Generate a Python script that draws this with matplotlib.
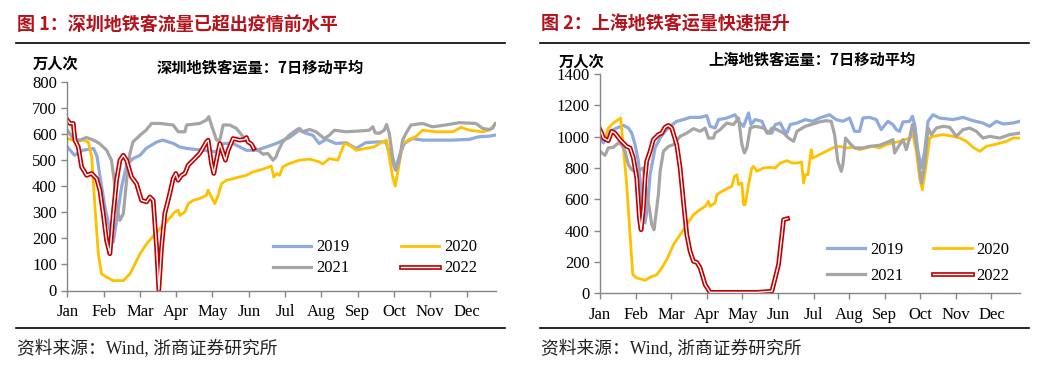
import matplotlib
matplotlib.use("Agg")
import matplotlib.pyplot as plt
import matplotlib.patheffects as pe
from matplotlib.lines import Line2D

# ---- data (day of year, 7-day moving average, 万人次) ----
months = ['Jan', 'Feb', 'Mar', 'Apr', 'May', 'Jun', 'Jul', 'Aug', 'Sep', 'Oct', 'Nov', 'Dec']
years = ['2019', '2020', '2021', '2022']

# Shenzhen
sz_d_2019 = [0, 6, 13, 22, 25, 27, 31.5, 35.7, 38.5, 41.3, 45.5, 49.7, 55, 61, 66, 75, 80, 89, 94, 100,
             114, 125, 131, 139, 144.5, 150, 158.5, 167, 175, 178, 186, 194.5, 200, 205.7, 211, 217, 225,
             233.6, 242, 250, 259, 267, 271, 275, 278, 282.4, 289, 298, 309, 323, 337, 345, 353.5, 358]
sz_v_2019 = [551, 519, 538, 545, 513, 449, 321, 231, 186, 269, 397, 481, 506, 519, 545, 570, 577, 564, 551, 545,
             538, 532, 564, 564, 551, 538, 538, 551, 564, 570, 587, 615, 603, 596, 564, 580, 564,
             567, 545, 567, 570, 570, 513, 462, 513, 564, 583, 577, 577, 577, 580, 590, 592, 596]

sz_d_2020 = [0, 8, 13, 17.6, 20.4, 23.2, 26, 28.7, 33, 38.5, 47, 52.5, 61, 66.4, 75, 83, 90, 93, 94.3, 98.5,
             101.3, 105.5, 111, 116.6, 118, 122.2, 123.6, 126.4, 129.2, 133.4, 139, 144.5, 150, 155.7, 161.3,
             165.4, 171, 173, 175.5, 178, 180.5, 186, 194.5, 203, 211, 214, 219.6, 222.4, 226.6, 229.4,
             232.2, 236.4, 242, 250, 257, 264, 267.6, 269.8, 272.6, 274.8, 278.2, 281, 286.6, 292, 297.7,
             309, 323, 330, 337, 348, 353.5, 358]
sz_v_2020 = [583, 573, 577, 570, 513, 320, 141, 64, 51, 38, 38, 64, 141, 179, 224, 263, 301, 308, 288, 301,
             333, 346, 353, 365, 385, 346, 333, 365, 410, 423, 429, 436, 442, 455, 462,
             468, 477, 435, 449, 442, 474, 487, 500, 504, 494, 485, 506, 504, 500, 532,
             564, 558, 538, 545, 551, 570, 577, 513, 436, 400, 487, 564, 580, 590, 615,
             609, 609, 626, 615, 609, 615, 635]

sz_d_2021 = [0, 5, 10.6, 16, 22, 27, 33, 37, 39.3, 41.3, 44, 47, 49.7, 52.5, 55, 61, 66, 70.6, 77.6, 88.7,
             93, 98.5, 100, 111, 116.6, 118.6, 120.8, 125, 127.8, 130.6, 136, 141.7, 147.3, 155.7, 160, 164,
             168, 172.4, 175, 176.4, 180.5, 186, 191.7, 194.5, 197.3, 203, 208.4, 215.4, 219.6, 223.8,
             233.6, 244.7, 253, 256, 258, 261.5, 265.6, 267.6, 269.8, 272.6, 275.4, 278.2, 281, 283.8, 288,
             297.7, 306, 317, 328.4, 342.4, 348, 353.5, 356.3, 358.6]
sz_v_2021 = [615, 583, 577, 587, 577, 564, 538, 500, 423, 321, 269, 295, 423, 526, 570, 596, 615, 641, 641, 635,
             609, 609, 635, 641, 654, 667, 635, 577, 577, 635, 635, 622, 590, 551, 538, 523,
             526, 500, 513, 532, 570, 596, 615, 622, 609, 618, 609, 583, 596, 615,
             609, 612, 615, 628, 605, 603, 615, 637, 603, 513, 462, 500, 577, 603, 635,
             641, 628, 635, 644, 641, 622, 618, 622, 641]

sz_d_2022 = [0, 2.2, 5, 6.4, 9.2, 12, 16.2, 20.4, 24.6, 27.3, 30.1, 32.9, 35.7, 38.5, 41.3, 44.1, 46.9, 49.7,
             53.8, 58, 62.2, 66.4, 69.2, 72, 74.8, 76.7, 79, 81.7, 85.9, 88.7, 91, 92.9, 95.7, 98.5, 101.3,
             105.5, 111, 116.6, 118, 120.8, 122.8, 125, 127.8, 130.6, 132.5, 134.8, 138.9, 144.5, 148.7,
             150.1, 151.5, 154.3, 156.2]
sz_v_2022 = [654, 641, 641, 577, 551, 474, 442, 449, 429, 385, 295, 192, 141, 295, 423, 500, 519, 500,
             436, 410, 346, 340, 359, 346, 167, 2, 167, 295, 372, 429, 449, 423, 442, 449, 481,
             500, 526, 570, 577, 487, 449, 500, 564, 526, 500, 538, 583, 577, 580,
             587, 570, 562, 545]

# Shanghai
sh_d_2019 = [0, 2.9, 5.7, 8.6, 14.3, 20, 24.3, 27.1, 30, 32.8, 35.7, 38.5, 40.5, 42.8, 47.1, 51.4, 55.6, 59.9,
             65.6, 71.3, 77, 85.6, 91.3, 94.1, 98.4, 101.3, 108.4, 115.5, 118.4, 122.7, 127, 129, 132.7, 138.4,
             142.7, 146.9, 149.8, 154.1, 156.9, 159.8, 162.6, 168.3, 175.5, 181.9, 187.6, 196.2, 201.9, 207.6,
             213.3, 217.6, 221.9, 224.7, 230.4, 236.1, 240.4, 246.1, 250.4, 253.3, 256.1, 259, 264.7, 267,
             269, 271.8, 274.7, 277.5, 280.4, 284.6, 290.3, 301.8, 310.3, 318.9, 327.4, 333.1, 338.8, 344.6,
             353.1, 358.8]
sh_v_2019 = [991, 960, 1013, 1034, 1055, 1072, 1055, 1023, 949, 843, 609, 449, 545, 757, 928, 991, 1034, 1066,
             1098, 1109, 1123, 1123, 1134, 1066, 1055, 1109, 1119, 1140, 1098, 1066, 1151, 1077, 1109, 1098,
             1023, 1023, 1077, 1087, 1045, 1023, 1077, 1087, 1109, 1098, 1119, 1140, 1109, 1098,
             1119, 1034, 1034, 1119, 1123, 1109, 1045, 1098, 1077, 1045, 1034, 1094, 1098, 1130,
             1077, 906, 800, 906, 1098, 1140, 1119, 1109, 1123, 1102, 1087, 1066, 1098, 1081,
             1087, 1098]

sh_d_2020 = [0, 4.3, 7.1, 11.4, 15.7, 17.7, 20, 22.8, 25.7, 28, 31.4, 38.5, 42.8, 48.5, 52.8, 57.1, 62.8, 68.5,
             74.2, 79.9, 85.6, 89.9, 92.7, 94.1, 98.4, 99.9, 104.1, 109.8, 112.7, 115, 117, 118.4, 121.3,
             122.7, 124.1, 127, 129.8, 131.2, 134.1, 139.8, 145.5, 149.8, 154.1, 159.8, 164, 168.3, 172.3,
             174, 175.5, 177.7, 179.1, 180.5, 181.9, 187.6, 193.3, 199, 204.8, 210.5, 216.2, 221.9, 227.6,
             233.3, 239, 244.7, 250.4, 256.1, 260.4, 264.7, 267.5, 270.4, 273.2, 275.5, 278.4, 281.8, 284.6,
             293.2, 301.8, 307.5, 313.2, 318.9, 324.6, 330.3, 338.8, 347.4, 353.1, 358.8]
sh_v_2020 = [1013, 991, 1055, 1087, 1109, 1119, 928, 694, 374, 119, 98, 83, 102, 119, 162, 215, 311, 374,
             438, 502, 534, 555, 587, 555, 577, 630, 651, 672, 683, 747, 757, 694, 704,
             566, 566, 694, 800, 811, 779, 800, 804, 800, 832, 847, 832, 832, 838,
             704, 757, 757, 832, 917, 864, 885, 906, 928, 938, 928, 932, 917, 928,
             938, 928, 949, 960, 970, 981, 991, 1013, 906, 736, 662, 800, 991, 1002,
             1013, 1002, 991, 970, 932, 906, 938, 953, 970, 991, 991]

sh_d_2021 = [0, 4.3, 7.1, 11.4, 15.7, 18.5, 21.4, 24.3, 27.1, 30, 34.2, 37.1, 39.9, 42.2, 44.2, 46.2, 48.5,
             49.9, 51.4, 54.2, 58.5, 62.8, 68.5, 74.2, 79.9, 85.6, 89.9, 92.7, 97, 98.4, 102.7, 108.4, 114.1,
             118.4, 121.3, 123.5, 125.5, 128.4, 132.7, 139.8, 144.1, 146.9, 151.2, 156.9, 161.2, 165.5, 168.3,
             175.5, 181.9, 187.6, 193.3, 197.6, 200.5, 203.3, 206.2, 207.6, 209.9, 213.3, 217.6, 224.7, 230.4,
             239, 246.1, 250.4, 251.8, 256.1, 259, 261.8, 264.7, 267, 269, 271.8, 274.7, 277.5, 280.4, 283.2,
             287.5, 293.2, 298.9, 304.6, 310.3, 316, 321.7, 327.4, 333.1, 341.7, 350.2, 358.8]
sh_v_2021 = [906, 881, 928, 932, 960, 949, 906, 821, 789, 779, 789, 800, 630, 545, 438, 406, 545,
             630, 779, 906, 938, 949, 1002, 1023, 1051, 1034, 1055, 991, 991, 1023, 1045, 1087, 1077,
             1119, 949, 896, 928, 1055, 1066, 1055, 1023, 1055, 1045, 1023, 991, 970, 1034,
             1066, 1081, 1094, 1102, 1098, 1013, 843, 779, 821, 991, 960, 928, 928, 938,
             945, 966, 981, 896, 949, 981, 917, 991, 1077, 1013, 885, 704, 821, 1055, 1013,
             1055, 1066, 1060, 1002, 1045, 1055, 1034, 991, 1002, 991, 1013, 1023]

sh_d_2022 = [0, 1.4, 2.9, 7.1, 10, 12.8, 17.1, 22.8, 25.7, 28.5, 31.4, 33.7, 35.1, 37.1, 38.5, 39.9, 42.8,
             45.6, 49.9, 52.8, 55.6, 58.5, 61.3, 65.6, 68.5, 71.3, 74.2, 77, 79.9, 82.7, 85.6, 89.9, 94.1,
             105.6, 134.1, 146.9, 149.8, 152.6, 155.5, 156.9, 160.3]
sh_v_2022 = [1045, 1023, 991, 974, 1034, 1023, 981, 938, 928, 864, 736, 481, 406, 545, 736, 843, 906,
             981, 1013, 1023, 1060, 1072, 1055, 949, 800, 587, 374, 268, 204, 198, 162, 55, 6,
             6, 6, 13, 98, 183, 374, 470, 477]

# ---- style ----
W, H = 1057, 382
RED_TITLE = '#B5121B'
colors = {'2019': '#8FAADC', '2020': '#FFC000', '2021': '#A5A5A5', '2022': '#C00000'}
AXIS_GRAY = '#868686'
CJK = ['Noto Sans CJK SC', 'DejaVu Sans']
SERIF = ['Liberation Serif', 'Noto Sans CJK SC']

plt.rcParams['font.family'] = CJK


def fx(px):
    return px / W


def fy(py):
    return 1 - py / H


fig = plt.figure(figsize=(W / 100, H / 100), dpi=100)
fig.patch.set_facecolor('white')


def draw_panel(rect, series, ymax, ystep, leg_anchor, leg_spacing, col_spacing):
    ax = fig.add_axes(rect)
    handles = {}
    for yr, (d, v) in zip(years, series):
        if yr == '2022':
            h, = ax.plot(d, v, color='white', lw=1.0, label=yr, solid_joinstyle='round',
                         path_effects=[pe.Stroke(linewidth=3.4, foreground=colors[yr]), pe.Normal()])
        else:
            lw = 2.0 if yr == '2020' else 2.3
            h, = ax.plot(d, v, color=colors[yr], lw=lw, label=yr, solid_joinstyle='round')
        handles[yr] = h
    ax.set_xlim(0, 359)
    ax.set_ylim(0, ymax)
    ax.set_xticks([i * 365 / 12 for i in range(12)])
    ax.set_xticklabels(months)
    ax.set_yticks(range(0, ymax + 1, ystep))
    for s in ['top', 'right']:
        ax.spines[s].set_visible(False)
    for s in ['left', 'bottom']:
        ax.spines[s].set_color(AXIS_GRAY)
        ax.spines[s].set_linewidth(1.0)
    ax.tick_params(axis='both', colors=AXIS_GRAY, length=4, width=1.0, labelcolor='black',
                   labelsize=12)
    ax.tick_params(axis='x', pad=6)
    for lab in ax.get_xticklabels() + ax.get_yticklabels():
        lab.set_fontfamily(SERIF)
    # row-wise order: 2019 2020 / 2021 2022
    order = ['2019', '2021', '2020', '2022']
    ax.legend([handles[k] for k in order], order, ncol=2, loc='upper left', bbox_to_anchor=leg_anchor,
              frameon=False, prop={'family': SERIF, 'size': 12}, handlelength=2.3, handletextpad=0.3,
              columnspacing=col_spacing, labelspacing=leg_spacing, borderaxespad=0, borderpad=0)
    return ax


draw_panel([fx(67.3), fy(290.5), fx(495.7) - fx(67.3), fy(82) - fy(290.5)],
           [(sz_d_2019, sz_v_2019), (sz_d_2020, sz_v_2020), (sz_d_2021, sz_v_2021), (sz_d_2022, sz_v_2022)],
           800, 100, (0.48, 0.245), 0.3, 3.1)
draw_panel([fx(600), fy(293.3), fx(1020) - fx(600), fy(74) - fy(293.3)],
           [(sh_d_2019, sh_v_2019), (sh_d_2020, sh_v_2020), (sh_d_2021, sh_v_2021), (sh_d_2022, sh_v_2022)],
           1400, 200, (0.54, 0.235), 0.62, 1.8)

# titles, separators, notes
for x0, x1, title in [(16, 505, '图 1：深圳地铁客流量已超出疫情前水平'),
                      (540, 1029, '图 2：上海地铁客运量快速提升')]:
    fig.text(fx(x0 + 1), fy(24), title, color=RED_TITLE, fontsize=13, fontweight='bold',
             ha='left', va='center')
    fig.add_artist(Line2D([fx(x0), fx(x1)], [fy(43), fy(43)], color='black', lw=1.2))
    fig.add_artist(Line2D([fx(x0), fx(x1)], [fy(327.7), fy(327.7)], color='black', lw=1.2))
    fig.text(fx(x0 + 1), fy(349), '资料来源：Wind, 浙商证券研究所', fontsize=12.8,
             family=SERIF, color='#222222', ha='left', va='center')

fig.text(fx(33), fy(64), '万人次', fontsize=11, fontweight='bold', ha='left', va='center')
fig.text(fx(260), fy(68), '深圳地铁客运量：7日移动平均', fontsize=11, fontweight='bold',
         ha='center', va='center')
fig.text(fx(559), fy(62), '万人次', fontsize=11, fontweight='bold', ha='left', va='center')
fig.text(fx(812), fy(60), '上海地铁客运量：7日移动平均', fontsize=11, fontweight='bold',
         ha='center', va='center')

fig.savefig('out.png', dpi=100)
